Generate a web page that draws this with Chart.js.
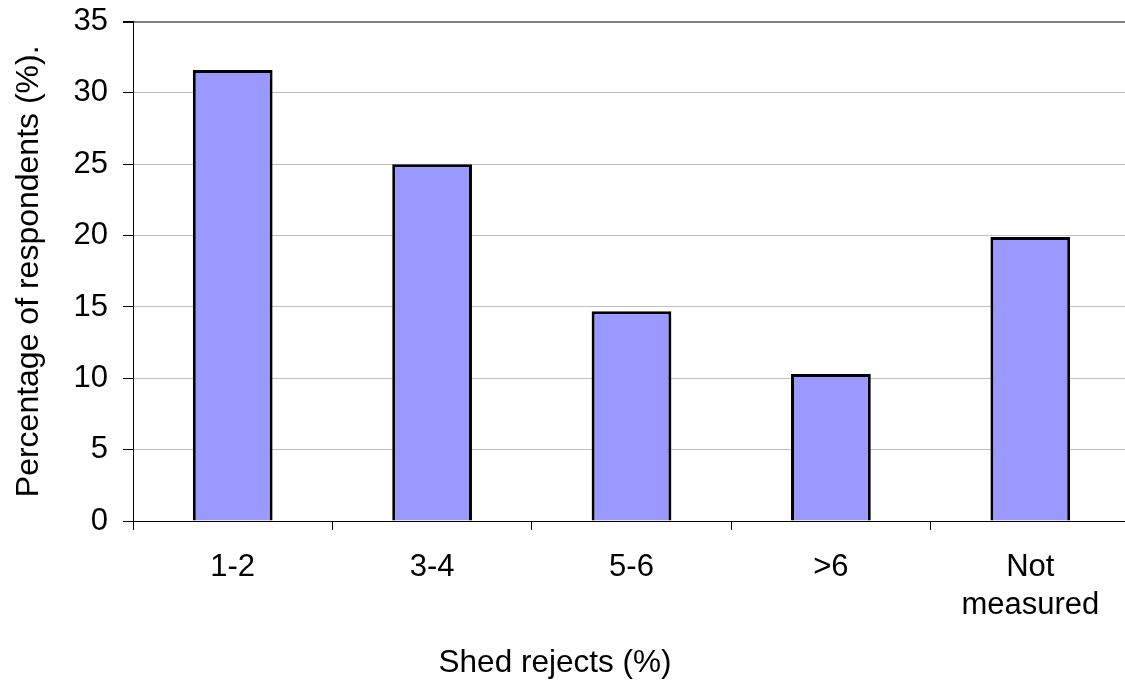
<!DOCTYPE html>
<html>
<head>
<meta charset="utf-8">
<script src="https://cdn.jsdelivr.net/npm/chart.js@4/dist/chart.umd.min.js"></script>
<style>
  html, body { margin: 0; padding: 0; background: #fff; overflow: hidden; }
  #wrap { width: 1130px; height: 681px; overflow: hidden; }
  #chart { display: block; margin-top: -12px; }
</style>
</head>
<body>
<div id="wrap"><canvas id="chart" width="1130" height="693"></canvas></div>
<script>
// data
const categories = ['1-2', '3-4', '5-6', '>6', ['Not', 'measured']];
const respondents = [31.6, 25.0, 14.7, 10.3, 19.9];
const yTicks = [0, 5, 10, 15, 20, 25, 30, 35];

const yTitle = 'Percentage of respondents (%).';
const xTitle = 'Shed rejects (%)';

const FONT = '"Liberation Sans", Arial, sans-serif';

// canvas is shifted up 12px, so page y = canvas y - 12
const SHIFT = 12;

// x axis title sits left of the plot centre in the original, so draw it by hand
const xTitlePlugin = {
    id: 'xTitle',
    afterDraw(chart) {
        const ctx = chart.ctx;
        ctx.save();
        ctx.font = '31.5px ' + FONT;
        ctx.fillStyle = '#000';
        ctx.textAlign = 'center';
        ctx.textBaseline = 'alphabetic';
        ctx.fillText(xTitle, 555, 672 + SHIFT);
        ctx.restore();
    }
};

new Chart(document.getElementById('chart'), {
    type: 'bar',
    data: {
        labels: categories,
        datasets: [{
            data: respondents,
            backgroundColor: '#9999FF',
            borderColor: '#000',
            borderWidth: 3,
            categoryPercentage: 1,
            barPercentage: 0.4
        }]
    },
    options: {
        responsive: false,
        animation: false,
        layout: { padding: { top: 11, right: 0, left: 0, bottom: 0 } },
        plugins: {
            legend: { display: false },
            tooltip: { enabled: false }
        },
        scales: {
            x: {
                afterFit: scale => { scale.height = 160; },
                grid: {
                    offset: true,
                    drawOnChartArea: false,
                    drawTicks: true,
                    tickLength: 9,
                    tickColor: '#000'
                },
                border: { color: '#000', width: 1 },
                ticks: {
                    color: '#000',
                    padding: 18,
                    maxRotation: 0,
                    font: { family: FONT, size: 31, lineHeight: 1.23 }
                }
            },
            y: {
                min: 0,
                max: 35,
                afterFit: scale => { scale.width = 133; },
                afterBuildTicks: scale => { scale.ticks = yTicks.map(v => ({ value: v })); },
                grid: {
                    color: ctx => (ctx.tick && ctx.tick.value === 35) ? '#808080' : '#c0c0c0',
                    lineWidth: ctx => (ctx.tick && ctx.tick.value === 35) ? 2 : 1,
                    tickLength: 10,
                    tickColor: '#000'
                },
                border: { color: '#000', width: 1 },
                ticks: {
                    color: '#000',
                    padding: 15,
                    font: { family: FONT, size: 31 }
                },
                title: {
                    display: true,
                    text: yTitle,
                    color: '#000',
                    padding: { top: 10, bottom: 0 },
                    font: { family: FONT, size: 32, lineHeight: 1.2 }
                }
            }
        }
    },
    plugins: [xTitlePlugin]
});
</script>
</body>
</html>
